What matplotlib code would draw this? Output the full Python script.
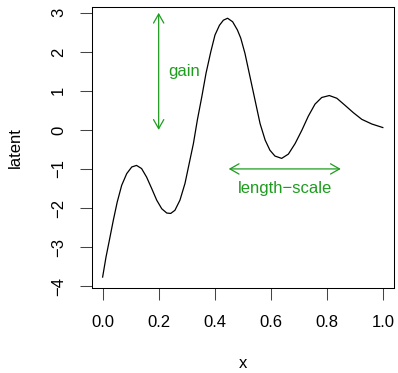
import matplotlib
matplotlib.use("Agg")
import matplotlib.pyplot as plt

# points
x = [0.000, 0.012, 0.024, 0.038, 0.052, 0.068, 0.086, 0.104, 0.121, 0.139,
     0.157, 0.175, 0.193, 0.211, 0.229, 0.243, 0.258, 0.276, 0.294, 0.309,
     0.324, 0.338, 0.354, 0.369, 0.386, 0.401, 0.417, 0.431, 0.446, 0.464,
     0.481, 0.493, 0.508, 0.526, 0.544, 0.562, 0.580, 0.597, 0.615, 0.639,
     0.663, 0.687, 0.711, 0.734, 0.758, 0.782, 0.809, 0.836, 0.865, 0.895,
     0.925, 0.961, 1.000]
latent = [-3.77, -3.26, -2.83, -2.32, -1.85, -1.42, -1.12, -0.95, -0.91, -0.99,
          -1.21, -1.50, -1.80, -2.02, -2.13, -2.14, -2.06, -1.80, -1.37, -0.86,
          -0.35, 0.25, 0.85, 1.45, 2.00, 2.43, 2.68, 2.81, 2.86, 2.77,
          2.56, 2.35, 1.96, 1.36, 0.76, 0.16, -0.26, -0.52, -0.67, -0.73,
          -0.62, -0.35, -0.01, 0.35, 0.66, 0.83, 0.88, 0.81, 0.63, 0.44,
          0.27, 0.15, 0.06]

xticks = [0.0, 0.2, 0.4, 0.6, 0.8, 1.0]
xticklabels = ["0.0", "0.2", "0.4", "0.6", "0.8", "1.0"]
yticks = [-4, -3, -2, -1, 0, 1, 2, 3]

gain_x, gain_y0, gain_y1 = 0.2, 0.0, 3.0
ls_y, ls_x0, ls_x1 = -1.0, 0.45, 0.85
green = "#1f9c1f"

plt.rcParams['font.family'] = ['Liberation Sans', 'DejaVu Sans']
plt.rcParams['font.size'] = 12

fig = plt.figure(figsize=(3.98, 3.73), dpi=100)
ax = fig.add_axes([0.2304, 0.2279, 0.7596, 0.7525])
ax.plot(x, latent, color="black", lw=0.9)

ax.set_xlim(-0.039, 1.04)
ax.set_ylim(-4.05, 3.14)
ax.set_xticks(xticks)
ax.set_xticklabels(xticklabels)
ax.set_yticks(yticks)
ax.set_yticklabels([str(t).replace("-", "\u2212") for t in yticks],
                   rotation=90, va="center")
ax.tick_params(direction="out", length=8.4, width=0.75, color="#444444")
ax.tick_params(axis="x", pad=11)
ax.tick_params(axis="y", pad=10)
for s in ax.spines.values():
    s.set_linewidth(0.75)

ax.set_xlabel("x", labelpad=19)
ax.set_ylabel("latent", labelpad=20)

arrow = dict(arrowstyle="<->,head_length=0.65,head_width=0.37",
             color=green, lw=0.9, shrinkA=0, shrinkB=0, mutation_scale=10)
ax.annotate("", xy=(gain_x, gain_y1), xytext=(gain_x, gain_y0), arrowprops=arrow)
ax.annotate("", xy=(ls_x1, ls_y), xytext=(ls_x0, ls_y), arrowprops=arrow)
ax.text(0.235, 1.5, "gain", color=green, ha="left", va="center")
ax.text(0.65, -1.5, "length\u2212scale", color=green, ha="center", va="center")

fig.savefig("out.png", dpi=100)
